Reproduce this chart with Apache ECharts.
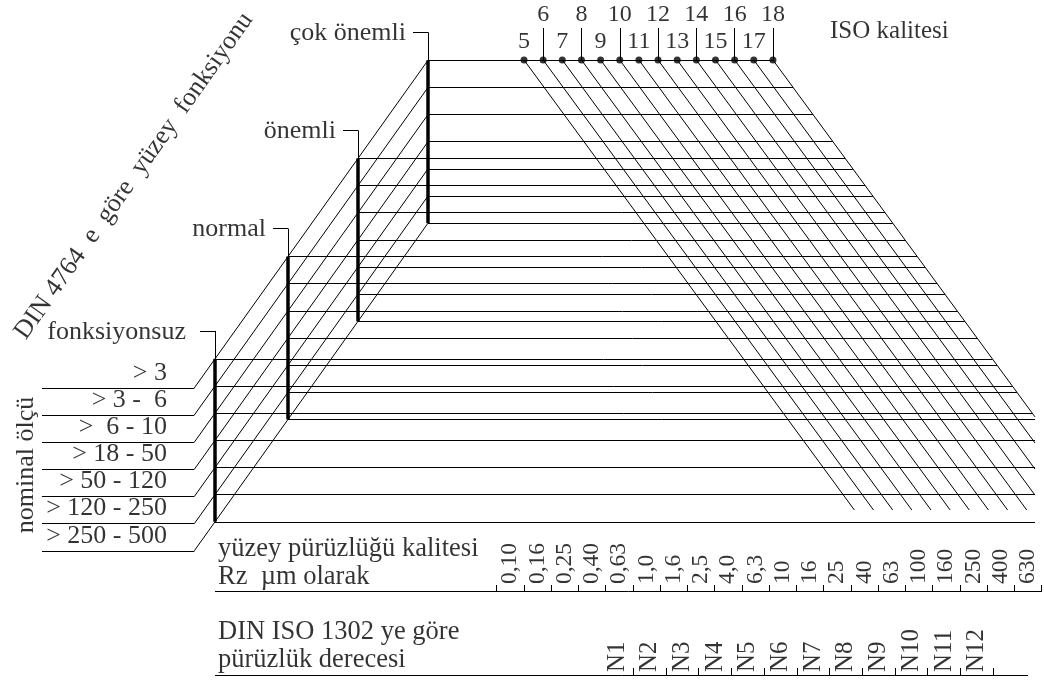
<!DOCTYPE html>
<html><head><meta charset="utf-8">
<script src="https://cdn.jsdelivr.net/npm/echarts@6/dist/echarts.min.js"></script>
<style>html,body{margin:0;padding:0;background:#fff}#c{width:1044px;height:682px}</style>
</head><body><div id="c"></div>
<script>
// ---------------- data ----------------
const nominalSizes = ['> 3', '> 3 -  6', '>  6 - 10', '> 18 - 50', '> 50 - 120', '> 120 - 250', '> 250 - 500'];
const functionClasses = ['fonksiyonsuz', 'normal', 'önemli', 'çok önemli'];
const isoGrades = [5, 6, 7, 8, 9, 10, 11, 12, 13, 14, 15, 16, 17, 18];
const rzValues = ['0,10', '0,16', '0,25', '0,40', '0,63', '1,0', '1,6', '2,5', '4,0', '6,3', '10', '16', '25', '40', '63', '100', '160', '250', '400', '630'];
const nGrades = ['N1', 'N2', 'N3', 'N4', 'N5', 'N6', 'N7', 'N8', 'N9', 'N10', 'N11', 'N12'];
const functionTitle = 'DIN 4764  e  göre  yüzey  fonksiyonu';
const nominalTitle = 'nominal ölçü';
const isoTitle = 'ISO kalitesi';
const rzTitle = ['yüzey pürüzlüğü kalitesi', 'Rz  µm olarak'];
const nTitle = ['DIN ISO 1302 ye göre', 'pürüzlük derecesi'];

// ---------------- layout (drawing units = pixels of the sheet) ----------------
const W = 1044, H = 682;
const L = {
  rowStep: 27.15, rowY0: 387.9, leftX0: 42, leftX1: 194.3, upSlope: 1.402,
  barX: [215, 288, 358, 428], bracketRise: 28, bracketLen: 15, labelGap: [29, 22, 22, 22],
  isoX0: 524, isoStep: 19.15, isoY: 60, downSlope: 1.362, isoBottom: 510, clipX: 1035,
  evenTickTop: 28, evenLabelY: 15, oddLabelY: 42,
  rzLineY: 591, rzTick0: 496.7, rzStep: 27.25, rzLineX0: 215, rzLineX1: 1042, tickLen: 6,
  nLineY: 675, nTick0: 633.3, nStep: 32.7, nLineX1: 1028,
  textX: 218
};
const FONT = 'Liberation Serif';
const nRows = nominalSizes.length;
const lastIso = isoGrades.length - 1;
const barTop = L.barX.map(x => L.rowY0 - (x - L.leftX1) * L.upSlope);
const iso18X = y => L.isoX0 + lastIso * L.isoStep + (y - L.isoY) / L.downSlope;

const thin = [], thick = [];
const seg = (a, b, arr) => (arr || thin).push({ coords: [a, b] });

// nominal size rows on the left + rising diagonals
nominalSizes.forEach((s, k) => {
  const y = L.rowY0 + k * L.rowStep;
  seg([L.leftX0, y], [L.leftX1, y]);
  const xEnd = L.barX[L.barX.length - 1];
  seg([L.leftX1, y], [xEnd, y - (xEnd - L.leftX1) * L.upSlope]);
});
// function bars, brackets and horizontal rows
functionClasses.forEach((f, i) => {
  const x = L.barX[i], top = barTop[i];
  seg([x, top], [x, top + (nRows - 1) * L.rowStep], thick);
  seg([x - L.bracketLen, top - L.bracketRise], [x, top - L.bracketRise]);
  seg([x, top - L.bracketRise], [x, top]);
  for (let k = 0; k < nRows; k++) {
    const y = top + k * L.rowStep;
    seg([x, y], [Math.min(iso18X(y), L.clipX), y]);
  }
});
// ISO grade diagonals
isoGrades.forEach((g, i) => {
  const x = L.isoX0 + i * L.isoStep;
  const yEnd = Math.min(L.isoBottom, L.isoY + (L.clipX - x) * L.downSlope);
  seg([x, L.isoY], [x + (yEnd - L.isoY) / L.downSlope, yEnd]);
  if (g % 2 === 0) seg([x, L.evenTickTop], [x, L.isoY]);
});
// Rz scale
seg([L.rzLineX0, L.rzLineY], [L.rzLineX1, L.rzLineY]);
for (let j = 0; j <= rzValues.length; j++) {
  const x = L.rzTick0 + j * L.rzStep;
  seg([x, L.rzLineY], [x, L.rzLineY - L.tickLen]);
}
// N scale
seg([L.rzLineX0, L.nLineY], [L.nLineX1, L.nLineY]);
nGrades.forEach((n, j) => {
  const x = L.nTick0 + j * L.nStep;
  seg([x, L.nLineY], [x, L.nLineY - L.tickLen - 1]);
});

// ---------------- texts ----------------
const texts = [];
const txt = (x, y, s, o) => texts.push({ value: [x, y], label: Object.assign({ formatter: s }, o) });
nominalSizes.forEach((s, k) => txt(167, L.rowY0 + k * L.rowStep - 15, s, { align: 'right', fontSize: 26 }));
functionClasses.forEach((f, i) => txt(L.barX[i] - L.labelGap[i], barTop[i] - L.bracketRise + 1, f, { align: 'right', fontSize: 26 }));
txt(26, 465, nominalTitle, { rotate: 90, align: 'center', fontSize: 26 });
txt(134, 176, functionTitle, { rotate: 54.7, align: 'center', fontSize: 26 });
isoGrades.forEach((g, i) => txt(L.isoX0 + i * L.isoStep, g % 2 === 0 ? L.evenLabelY : L.oddLabelY, String(g), { align: 'center', fontSize: 24 }));
txt(830, 31, isoTitle, { align: 'left', fontSize: 25 });
txt(L.textX, 549, rzTitle[0], { align: 'left', fontSize: 26.5 });
txt(L.textX, 577, rzTitle[1], { align: 'left', fontSize: 26.5 });
txt(L.textX, 632, nTitle[0], { align: 'left', fontSize: 26.5 });
txt(L.textX, 660, nTitle[1], { align: 'left', fontSize: 26.5 });
rzValues.forEach((v, j) => txt(L.rzTick0 + (j + 0.5) * L.rzStep, 584, v, { rotate: 90, align: 'left', fontSize: 23.5 }));
nGrades.forEach((n, j) => txt(L.nTick0 + j * L.nStep - L.nStep / 2, 672, n, { rotate: 90, align: 'left', fontSize: 25 }));

const chart = echarts.init(document.getElementById('c'), null, { renderer: 'canvas' });
chart.setOption({
  animation: false,
  backgroundColor: '#fff',
  grid: { left: 0, right: 0, top: 0, bottom: 0 },
  xAxis: { type: 'value', min: 0, max: W, show: false },
  yAxis: { type: 'value', min: 0, max: H, inverse: true, show: false },
  series: [
    { type: 'lines', coordinateSystem: 'cartesian2d', silent: true, lineStyle: { color: '#000', width: 1, opacity: 1, type: 'solid' }, data: thin },
    { type: 'lines', coordinateSystem: 'cartesian2d', silent: true, lineStyle: { color: '#000', width: 3.5, opacity: 1 }, data: thick },
    { type: 'scatter', silent: true, symbol: 'circle', symbolSize: 7, itemStyle: { color: '#000' },
      data: isoGrades.map((g, i) => [L.isoX0 + i * L.isoStep, L.isoY]) },
    { type: 'scatter', silent: true, symbolSize: 1, itemStyle: { color: 'rgba(0,0,0,0)' },
      label: { show: true, position: 'inside', color: '#000', fontFamily: FONT, verticalAlign: 'middle' },
      data: texts }
  ]
});
</script></body></html>
